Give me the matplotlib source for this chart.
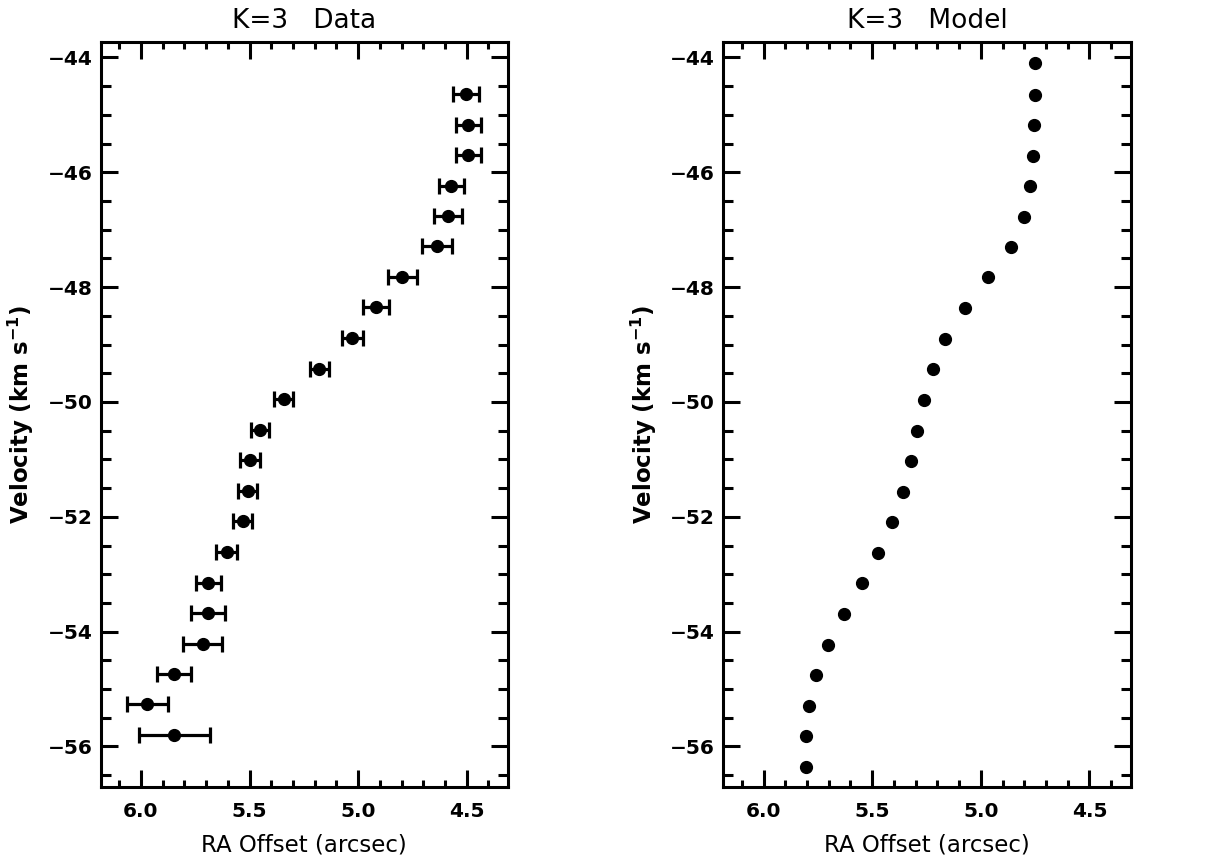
import matplotlib
matplotlib.use("Agg")
import matplotlib.pyplot as plt
from matplotlib.ticker import MultipleLocator, FixedLocator

plt.rcParams['font.family'] = ['DejaVu Sans']

# ---- data ----
data_ra = [4.504, 4.493, 4.493, 4.571, 4.588, 4.637, 4.796, 4.918, 5.026, 5.179,
           5.343, 5.452, 5.498, 5.509, 5.532, 5.604, 5.690, 5.690, 5.716, 5.847,
           5.970, 5.847]
data_vel = [-44.645, -45.17, -45.70, -46.237, -46.765, -47.29, -47.82, -48.355,
            -48.885, -49.418, -49.953, -50.493, -51.003, -51.55, -52.08, -52.613,
            -53.146, -53.669, -54.209, -54.73, -55.254, -55.794]
data_err = [0.060, 0.058, 0.058, 0.059, 0.065, 0.069, 0.066, 0.059, 0.048, 0.043,
            0.044, 0.042, 0.046, 0.043, 0.043, 0.048, 0.058, 0.078, 0.089, 0.079,
            0.094, 0.163]

model_ra = [4.749, 4.751, 4.754, 4.760, 4.772, 4.803, 4.863, 4.965, 5.074, 5.163,
            5.222, 5.262, 5.293, 5.323, 5.360, 5.409, 5.473, 5.545, 5.628, 5.702,
            5.758, 5.792, 5.804, 5.804]
model_vel = [-44.10, -44.65, -45.17, -45.71, -46.24, -46.78, -47.31, -47.83, -48.37,
             -48.90, -49.43, -49.96, -50.50, -51.03, -51.56, -52.09, -52.63, -53.16,
             -53.69, -54.23, -54.75, -55.29, -55.81, -56.35]

titles = ["K=3   Data", "K=3   Model"]
xlabel = "RA Offset (arcsec)"
ylabel = r"Velocity (km s$^{\mathbf{-1}}$)"
xticks = [6.0, 5.5, 5.0, 4.5]
xtick_labels = ["6.0", "5.5", "5.0", "4.5"]
yticks = [-44, -46, -48, -50, -52, -54, -56]
ytick_labels = ["\u221244", "\u221246", "\u221248", "\u221250", "\u221252", "\u221254", "\u221256"]

fig = plt.figure(figsize=(12.09, 8.66), dpi=100)
ax1 = fig.add_axes([0.0833, 0.0916, 0.3369, 0.860])
ax2 = fig.add_axes([0.5983, 0.0916, 0.3370, 0.860])

ax1.errorbar(data_ra, data_vel, xerr=data_err, fmt='o', color='black',
             markersize=8.5, elinewidth=2.3, capsize=5.5, capthick=2.3)
ax2.plot(model_ra, model_vel, 'o', color='black', markersize=8.5, linestyle='none')

for ax, title in zip([ax1, ax2], titles):
    ax.set_xlim(6.185, 4.31)
    ax.set_ylim(-56.70, -43.73)
    ax.xaxis.set_major_locator(FixedLocator(xticks))
    ax.set_xticklabels(xtick_labels, fontsize=14.5, fontweight='bold')
    ax.xaxis.set_minor_locator(MultipleLocator(0.1))
    ax.yaxis.set_major_locator(FixedLocator(yticks))
    ax.set_yticklabels(ytick_labels, fontsize=14.5, fontweight='bold')
    ax.yaxis.set_minor_locator(MultipleLocator(0.5))
    ax.tick_params(which='both', direction='in', top=True, right=True, width=2.2)
    ax.tick_params(axis='x', which='major', length=12, pad=11)
    ax.tick_params(axis='x', which='minor', length=5)
    ax.tick_params(axis='y', which='major', length=12, pad=6)
    ax.tick_params(axis='y', which='minor', length=7)
    for sp in ax.spines.values():
        sp.set_linewidth(2.2)
    ax.set_title(title, fontsize=19, pad=10)
    ax.set_xlabel(xlabel, fontsize=16.5, labelpad=9)
    ax.set_ylabel(ylabel, fontsize=16.5, fontweight='bold', labelpad=8)

fig.savefig("out.png", dpi=100)
